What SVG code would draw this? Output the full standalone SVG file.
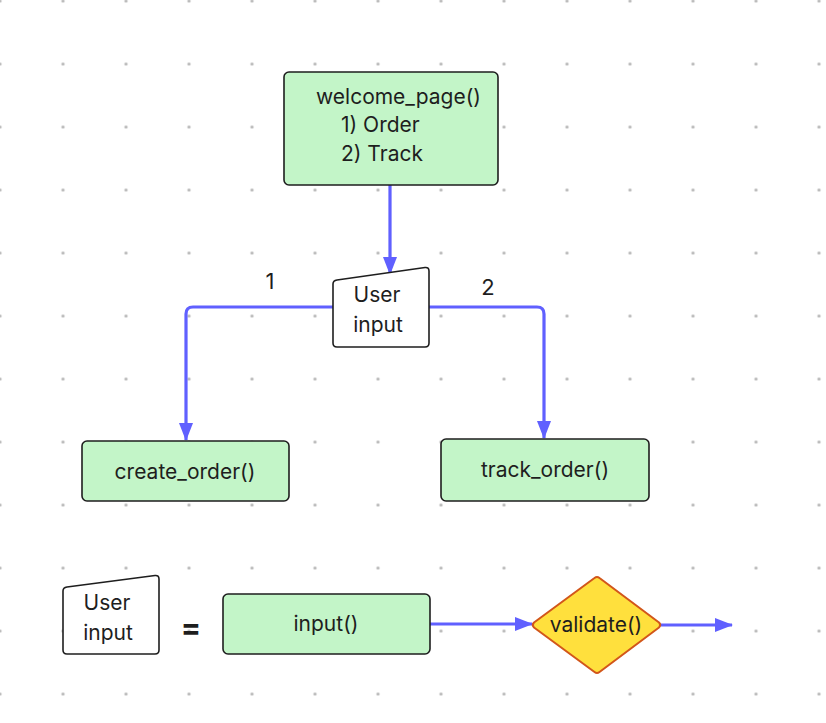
<svg xmlns="http://www.w3.org/2000/svg" width="826" height="723" viewBox="0 0 826 723">
  <defs>
    <pattern id="dots" x="-31.5" y="-30.5" width="63" height="63" patternUnits="userSpaceOnUse">
      <circle cx="31.5" cy="31.5" r="1.6" fill="#b5b5b5"/>
    </pattern>
    <marker id="arrow" viewBox="0 0 18 14" refX="17" refY="7" markerWidth="18" markerHeight="14" markerUnits="userSpaceOnUse" orient="auto">
      <path d="M0,0 L18,7 L0,14 Z" fill="#6060ff"/>
    </marker>
    <style>
      .box { fill: #c3f5c8; stroke: #1e1e1e; stroke-width: 1.6; }
      .io { fill: #ffffff; stroke: #1e1e1e; stroke-width: 1.6; stroke-linejoin: round; }
      .dec { fill: #ffe03d; stroke: #d2561a; stroke-width: 2; stroke-linejoin: round; }
      .conn { fill: none; stroke: #6060ff; stroke-width: 3.2; stroke-linejoin: round; }
      text { font-family: Inter, "Liberation Sans", sans-serif; font-size: 21px; fill: #1e1e1e; }
      .c { text-anchor: middle; }
    </style>
  </defs>
  <rect width="826" height="723" fill="#ffffff"/>
  <rect width="826" height="723" fill="url(#dots)"/>

  <g id="connectors">
    <path class="conn" d="M390,185 L390,274" marker-end="url(#arrow)"/>
    <path class="conn" d="M333,307 L193,307 Q186,307 186,314 L186,440" marker-end="url(#arrow)"/>
    <path class="conn" d="M429,307 L537,307 Q544,307 544,314 L544,438" marker-end="url(#arrow)"/>
    <path class="conn" d="M430,624 L532,624" marker-end="url(#arrow)"/>
    <path class="conn" d="M661,625 L732,625" marker-end="url(#arrow)"/>
    <text class="c" x="270" y="289" style="font-size:22px">1</text>
    <text class="c" x="488" y="295" style="font-size:22px">2</text>
  </g>

  <g id="welcome_page">
    <rect class="box" x="284" y="72" width="214" height="113" rx="5"/>
    <text x="316" y="104">welcome_page()</text>
    <text x="341" y="132">1) Order</text>
    <text x="341" y="161">2) Track</text>
  </g>

  <g id="user_input">
    <path class="io" d="M337,280 L425,267.5 Q429,267 429,271 L429,343 Q429,347 425,347 L337,347 Q333,347 333,343 L333,284 Q333,280.6 337,280 Z"/>
    <text class="c" x="377" y="302">User</text>
    <text class="c" x="378" y="332">input</text>
  </g>

  <g id="create_order">
    <rect class="box" x="82" y="441" width="207" height="60" rx="5"/>
    <text class="c" x="185" y="479">create_order()</text>
  </g>

  <g id="track_order">
    <rect class="box" x="441" y="439" width="208" height="62" rx="5"/>
    <text class="c" x="545" y="477">track_order()</text>
  </g>

  <g id="legend_user_input">
    <path class="io" d="M67,587 L155,575.5 Q159,575 159,579 L159,650 Q159,654 155,654 L67,654 Q63,654 63,650 L63,591 Q63,587.6 67,587 Z"/>
    <text class="c" x="107" y="610">User</text>
    <text class="c" x="108" y="640">input</text>
  </g>

  <g id="equals">
    <text class="c" x="191" y="638" style="font-size:30px;font-weight:bold">=</text>
  </g>

  <g id="input_fn">
    <rect class="box" x="223" y="594" width="207" height="60" rx="5"/>
    <text class="c" x="326" y="631">input()</text>
  </g>

  <g id="validate">
    <path class="dec" d="M534,622.5 L594.5,578 Q597,576 599.5,578 L659,622.5 Q661.5,625 659,627.5 L599.5,672 Q597,674 594.5,672 L534,627.5 Q531.5,625 534,622.5 Z"/>
    <text class="c" x="596" y="632">validate()</text>
  </g>
</svg>
